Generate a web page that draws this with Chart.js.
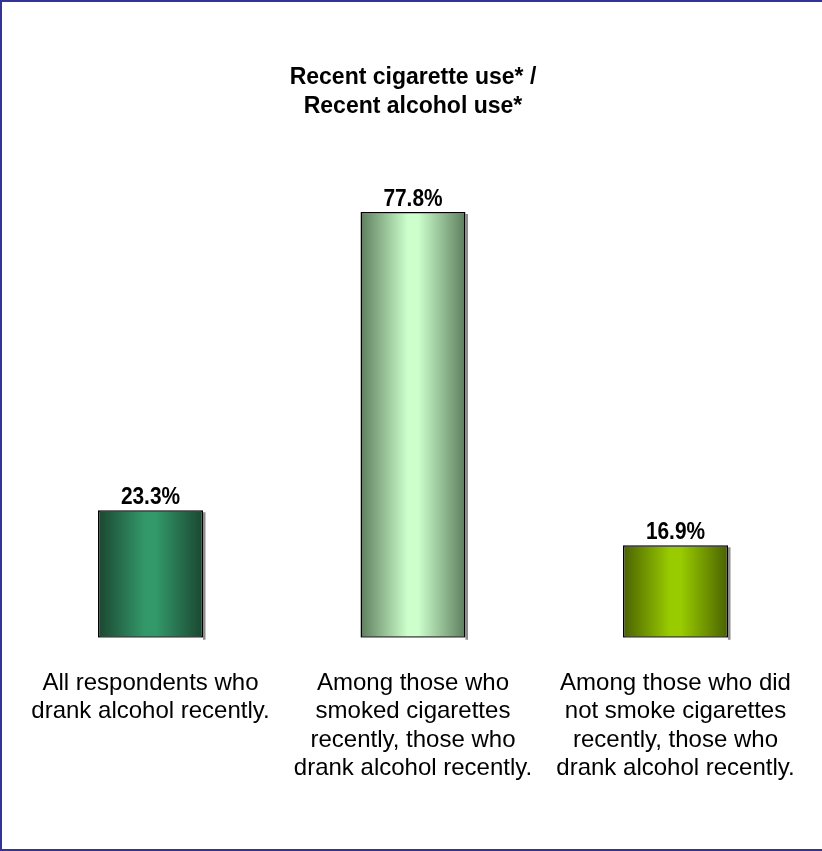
<!DOCTYPE html>
<html>
<head>
<meta charset="utf-8">
<script src="https://cdn.jsdelivr.net/npm/chart.js@4/dist/chart.umd.min.js"></script>
<style>
  html, body { margin: 0; padding: 0; background: #ffffff; }
  canvas { display: block; }
</style>
</head>
<body>
<canvas id="c" width="822" height="851"></canvas>
<script>
// ---- data ----
const titleLines = ["Recent cigarette use* /", "Recent alcohol use*"];
const categories = [
  ["All respondents who", "drank alcohol recently."],
  ["Among those who", "smoked cigarettes", "recently, those who", "drank alcohol recently."],
  ["Among those who did", "not smoke cigarettes", "recently, those who", "drank alcohol recently."]
];
const values = [23.3, 77.8, 16.9];
const yMin = 0;
const yMax = 80;

// ---- styles ----
const barEdgeColors = ["#1b4631", "#5d7d5d", "#4a6200"];
const barMidColors  = ["#33996a", "#ccffcc", "#99cc00"];
const FONT = "'Liberation Sans', Arial, Helvetica, sans-serif";

function barGradient(context) {
  const chart = context.chart;
  const xs = chart.scales.x;
  const i = context.dataIndex;
  if (!xs || !chart.chartArea) return barMidColors[i];
  const center = xs.getPixelForValue(i);
  const step = xs.getPixelForValue(1) - xs.getPixelForValue(0);
  const w = step * 0.4;
  const g = chart.ctx.createLinearGradient(center - w / 2, 0, center + w / 2, 0);
  g.addColorStop(0, barEdgeColors[i]);
  g.addColorStop(0.45, barMidColors[i]);
  g.addColorStop(0.55, barMidColors[i]);
  g.addColorStop(1, barEdgeColors[i]);
  return g;
}

const decorPlugin = {
  id: 'decor',
  beforeDraw(chart) {
    const ctx = chart.ctx;
    ctx.save();
    ctx.fillStyle = '#ffffff';
    ctx.fillRect(0, 0, chart.width, chart.height);
    ctx.restore();
  },
  beforeDatasetsDraw(chart) {
    const ctx = chart.ctx;
    const meta = chart.getDatasetMeta(0);
    ctx.save();
    ctx.fillStyle = '#8c8c8c';
    meta.data.forEach(bar => {
      const p = bar.getProps(['x', 'y', 'base', 'width'], true);
      ctx.fillRect(p.x + p.width / 2, p.y + 2, 2.5, p.base - p.y);
    });
    ctx.restore();
  },
  afterDatasetsDraw(chart) {
    const ctx = chart.ctx;
    const meta = chart.getDatasetMeta(0);
    meta.data.forEach((bar, i) => {
      const p = bar.getProps(['x', 'y'], true);
      ctx.save();
      ctx.translate(p.x, p.y - 6);
      ctx.scale(0.87, 1);
      ctx.fillStyle = '#000000';
      ctx.font = "bold 24px " + FONT;
      ctx.textAlign = 'center';
      ctx.textBaseline = 'alphabetic';
      ctx.fillText(values[i].toFixed(1) + '%', 0, 0);
      ctx.restore();
    });
  },
  afterDraw(chart) {
    const ctx = chart.ctx;
    ctx.save();
    ctx.fillStyle = '#333399';
    ctx.fillRect(0, 0, chart.width, 2);
    ctx.fillRect(0, 0, 2, chart.height);
    ctx.fillRect(0, chart.height - 2, chart.width, 2);
    ctx.restore();
  }
};

new Chart(document.getElementById('c'), {
  type: 'bar',
  data: {
    labels: categories,
    datasets: [{
      data: values,
      backgroundColor: barGradient,
      borderColor: '#000000',
      borderWidth: 1.5,
      borderSkipped: false,
      barPercentage: 0.4,
      categoryPercentage: 1.0
    }]
  },
  options: {
    responsive: false,
    animation: false,
    devicePixelRatio: 1,
    layout: { padding: { top: 0, left: 19.25, right: 15.25, bottom: 68 } },
    plugins: {
      legend: { display: false },
      tooltip: { enabled: false },
      title: {
        display: true,
        text: titleLines,
        color: '#000000',
        font: { family: FONT, size: 23, weight: 'bold', lineHeight: 1.26 },
        padding: { top: 63.5, bottom: 78.5 }
      }
    },
    scales: {
      x: {
        grid: { display: false, drawTicks: true, tickLength: 31 },
        border: { display: false },
        ticks: {
          color: '#000000',
          font: { family: FONT, size: 24, lineHeight: 1.19 },
          padding: 0,
          autoSkip: false,
          maxRotation: 0,
          minRotation: 0
        }
      },
      y: {
        display: false,
        min: yMin,
        max: yMax
      }
    }
  },
  plugins: [decorPlugin]
});
</script>
</body>
</html>
